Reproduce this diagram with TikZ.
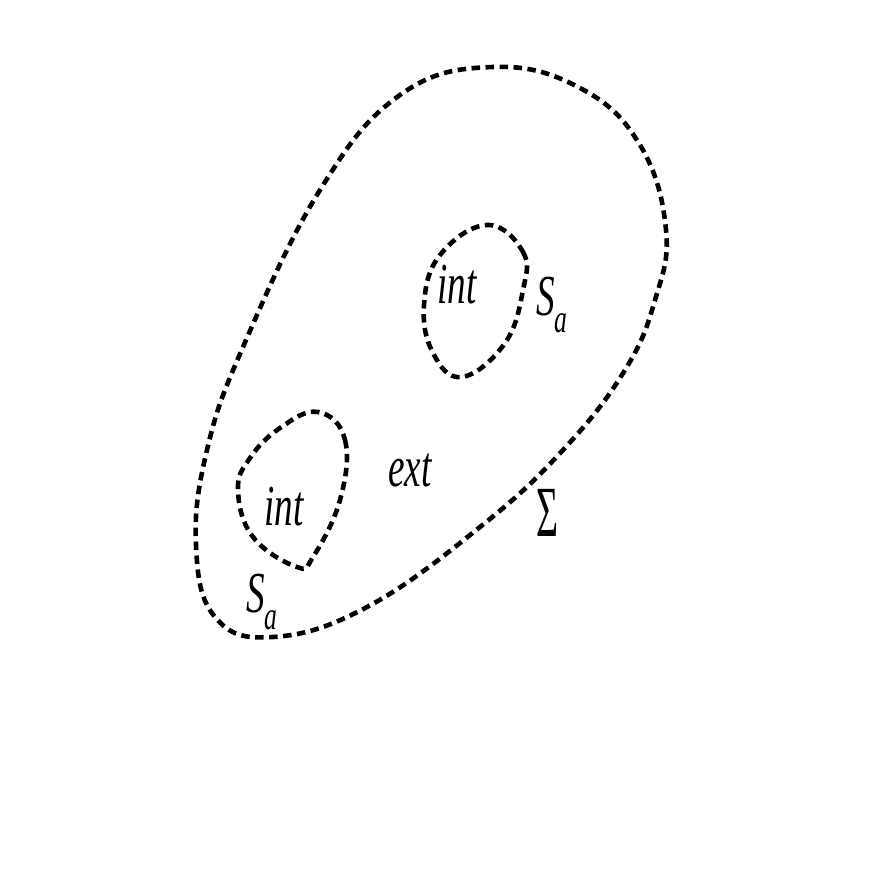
\documentclass[tikz,border=0pt]{standalone}
\usepackage{fontspec}
\setmainfont{Liberation Serif}
\usetikzlibrary{positioning}

\begin{document}
\begin{tikzpicture}[x=1pt, y=-1pt]
\tikzset{
  curve/.style={draw=black, line width=4.6pt, dash pattern=on 8.5pt off 5.5pt, line join=round},
  lbl/.style={font=\fontsize{58}{60}\selectfont\itshape, xscale=0.64, inner sep=0pt, text=black}
}
\useasboundingbox (0,0) rectangle (872,872);
% outer region Sigma
\draw[curve] plot[smooth cycle, tension=0.7] coordinates {(493,67) (580,88) (640,145) (666,230) (655,300) (625,370) (563,450) (480,527) (367,607) (273,637) (215,617) (196,545) (207,450) (243,347) (320,190) (400,95)};
% upper small body
\draw[curve] plot[smooth cycle, tension=0.7] coordinates {(487,225) (523,252) (523,290) (505,343) (462,377) (433,353) (424,305) (440,255)};
% lower small body
\draw[curve] plot[smooth cycle, tension=0.7] coordinates {(318,412) (345,440) (340,500) (313,557) (297,567) (253,537) (238,490) (250,458) (280,428)};
\node[lbl] (intup) at (457,285) {int};
\node[lbl, anchor=base west] (saup) at (536,315) {S\raisebox{-0.3em}{\fontsize{40}{40}\selectfont a}};
\node[lbl] (intlow) at (284,507) {int};
\node[lbl] (ext) at (410,470) {ext};
\node[lbl, font=\fontsize{72}{74}\selectfont, xscale=0.82] (sigma) at (547,513) {Σ};
\node[lbl, anchor=base west] (salow) at (246,612) {S\raisebox{-0.3em}{\fontsize{40}{40}\selectfont a}};
\end{tikzpicture}
\end{document}
